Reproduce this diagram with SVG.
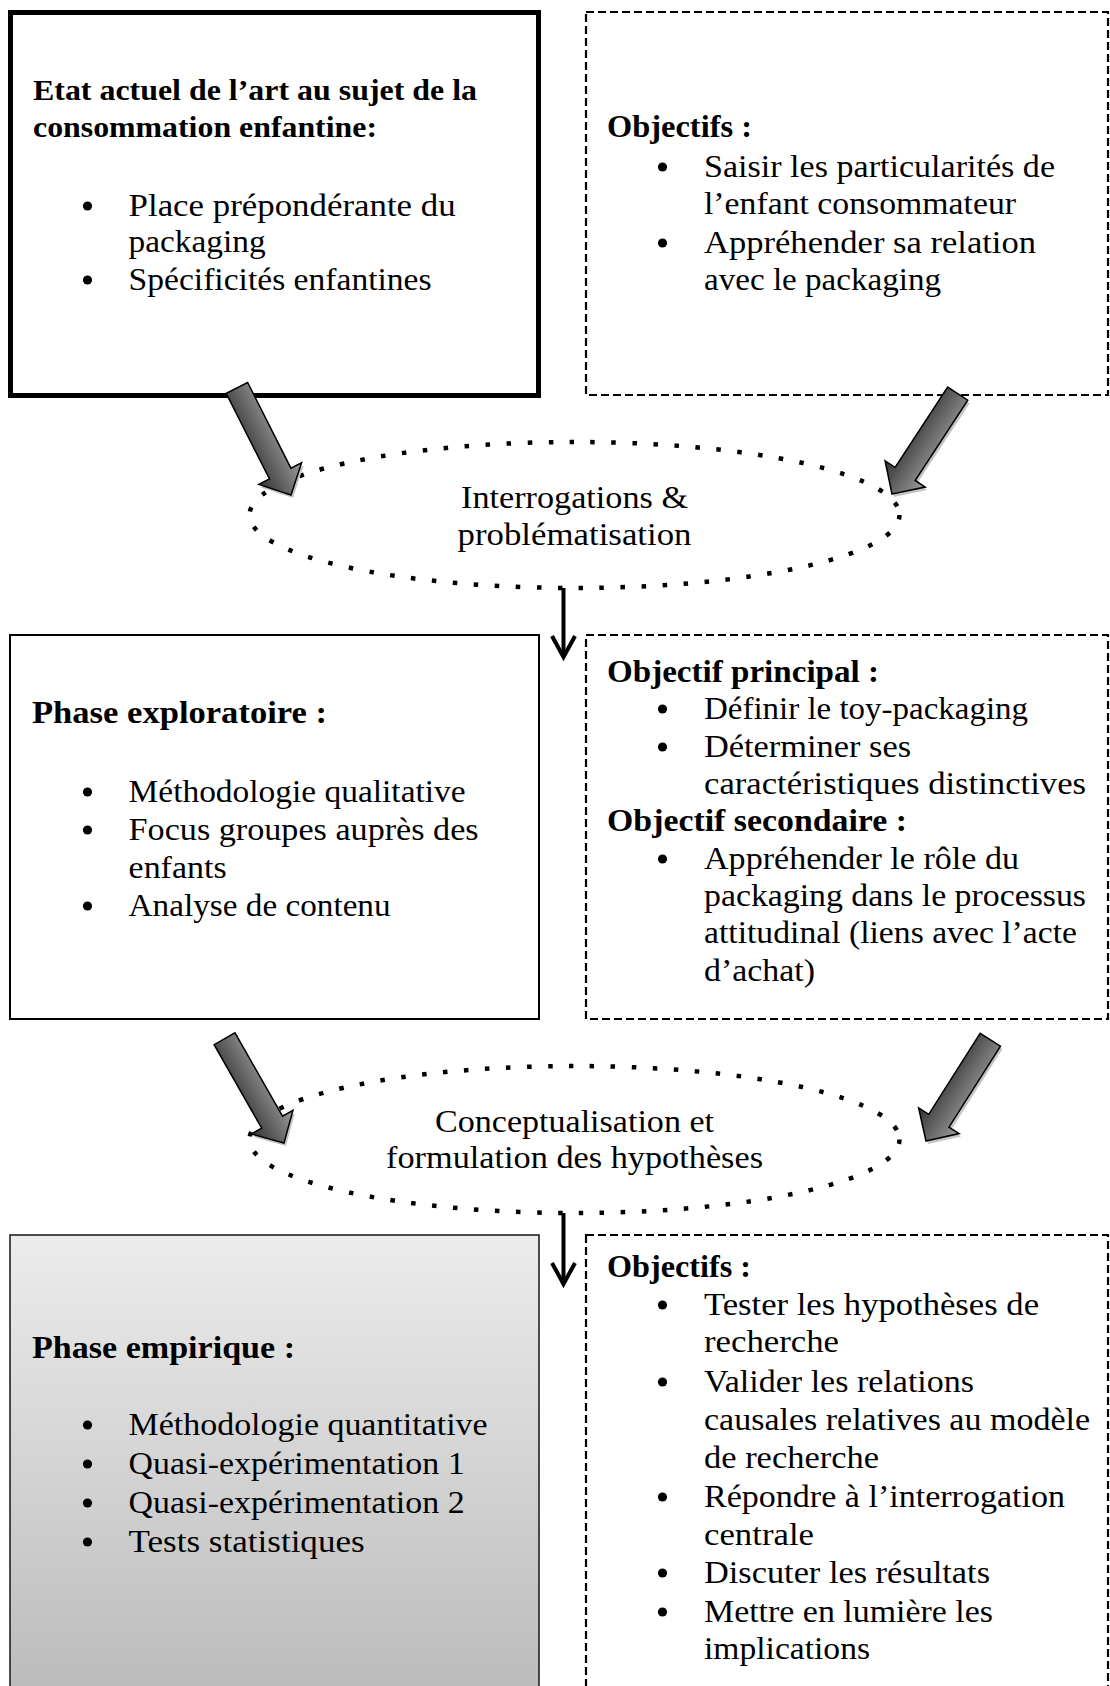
<svg xmlns="http://www.w3.org/2000/svg" xmlns:xlink="http://www.w3.org/1999/xlink" width="1110" height="1686" viewBox="0 0 1110 1686">
<style>
.t{font-family:"Liberation Serif","Times New Roman",serif;font-size:32px;fill:#000}
.h{font-family:"Liberation Serif","Times New Roman",serif;font-size:31px;font-weight:bold;fill:#000}
.ht{font-family:"Liberation Serif","Times New Roman",serif;font-size:29px;font-weight:bold;fill:#000}
.c{text-anchor:middle}
.dash{fill:none;stroke:#000;stroke-width:2.2;stroke-dasharray:8 4}
.dots{fill:none;stroke:#000;stroke-width:4.5;stroke-dasharray:4.5 16.5}
.b{fill:#000}
</style>
<defs>
<linearGradient id="gArrow" gradientUnits="userSpaceOnUse" x1="0" y1="-24" x2="0" y2="24">
<stop offset="0" stop-color="#9c9c9c"/>
<stop offset="1" stop-color="#333"/>
</linearGradient>
<linearGradient id="gGray" x1="0" y1="0" x2="0" y2="1">
<stop offset="0" stop-color="#ececec"/>
<stop offset="1" stop-color="#bbbbbb"/>
</linearGradient>
<path id="blk" d="M0,0 L-24,-24 L-24,-12 L-120,-12 L-120,12 L-24,12 L-24,24 Z"/>
</defs>
<rect width="1110" height="1686" fill="#fff"/>

<g id="box-etat">
<rect x="10.5" y="12.5" width="528" height="383" fill="#fff" stroke="#000" stroke-width="5"/>
<text class="ht" x="33" y="100" textLength="444" lengthAdjust="spacingAndGlyphs">Etat actuel de l’art au sujet de la</text>
<text class="ht" x="33" y="137" textLength="344" lengthAdjust="spacingAndGlyphs">consommation enfantine:</text>
<circle class="b" cx="87.5" cy="206" r="4.6"/>
<circle class="b" cx="87.5" cy="280" r="4.6"/>
<text class="t" x="128.6" y="216" textLength="327" lengthAdjust="spacingAndGlyphs">Place prépondérante du</text>
<text class="t" x="128.6" y="252" textLength="137" lengthAdjust="spacingAndGlyphs">packaging</text>
<text class="t" x="128.6" y="290" textLength="303" lengthAdjust="spacingAndGlyphs">Spécificités enfantines</text>
</g>

<g id="box-objectifs1">
<rect class="dash" x="586" y="12" width="522" height="383"/>
<text class="h" x="607" y="137" textLength="145" lengthAdjust="spacingAndGlyphs">Objectifs :</text>
<circle class="b" cx="662.5" cy="167" r="4.6"/>
<circle class="b" cx="662.5" cy="243" r="4.6"/>
<text class="t" x="704" y="177" textLength="351" lengthAdjust="spacingAndGlyphs">Saisir les particularités de</text>
<text class="t" x="704" y="214" textLength="312" lengthAdjust="spacingAndGlyphs">l’enfant consommateur</text>
<text class="t" x="704" y="253" textLength="332" lengthAdjust="spacingAndGlyphs">Appréhender sa relation</text>
<text class="t" x="704" y="290" textLength="237" lengthAdjust="spacingAndGlyphs">avec le packaging</text>
</g>

<g id="ellipse-interrogations">
<ellipse class="dots" cx="574.5" cy="515" rx="325" ry="73"/>
<text class="t c" x="574.5" y="508" textLength="227" lengthAdjust="spacingAndGlyphs">Interrogations &amp;</text>
<text class="t c" x="574.5" y="545" textLength="234" lengthAdjust="spacingAndGlyphs">problématisation</text>
</g>

<g id="box-exploratoire">
<rect x="10" y="635" width="529" height="384" fill="#fff" stroke="#000" stroke-width="2"/>
<text class="h" x="32" y="723" textLength="295" lengthAdjust="spacingAndGlyphs">Phase exploratoire :</text>
<circle class="b" cx="87.5" cy="792" r="4.6"/>
<circle class="b" cx="87.5" cy="830" r="4.6"/>
<circle class="b" cx="87.5" cy="906" r="4.6"/>
<text class="t" x="128.6" y="802" textLength="337" lengthAdjust="spacingAndGlyphs">Méthodologie qualitative</text>
<text class="t" x="128.6" y="840" textLength="350" lengthAdjust="spacingAndGlyphs">Focus groupes auprès des</text>
<text class="t" x="128.6" y="878" textLength="98" lengthAdjust="spacingAndGlyphs">enfants</text>
<text class="t" x="128.6" y="916" textLength="262" lengthAdjust="spacingAndGlyphs">Analyse de contenu</text>
</g>

<g id="box-objectifs2">
<rect class="dash" x="586" y="635" width="522" height="384"/>
<text class="h" x="607" y="682" textLength="272" lengthAdjust="spacingAndGlyphs">Objectif principal :</text>
<circle class="b" cx="662.5" cy="709" r="4.6"/>
<circle class="b" cx="662.5" cy="747" r="4.6"/>
<text class="t" x="704" y="719" textLength="324" lengthAdjust="spacingAndGlyphs">Définir le toy-packaging</text>
<text class="t" x="704" y="757" textLength="207" lengthAdjust="spacingAndGlyphs">Déterminer ses</text>
<text class="t" x="704" y="794" textLength="382" lengthAdjust="spacingAndGlyphs">caractéristiques distinctives</text>
<text class="h" x="607" y="831" textLength="300" lengthAdjust="spacingAndGlyphs">Objectif secondaire :</text>
<circle class="b" cx="662.5" cy="859" r="4.6"/>
<text class="t" x="704" y="869" textLength="315" lengthAdjust="spacingAndGlyphs">Appréhender le rôle du</text>
<text class="t" x="704" y="906" textLength="382" lengthAdjust="spacingAndGlyphs">packaging dans le processus</text>
<text class="t" x="704" y="943" textLength="373" lengthAdjust="spacingAndGlyphs">attitudinal (liens avec l’acte</text>
<text class="t" x="704" y="981" textLength="111" lengthAdjust="spacingAndGlyphs">d’achat)</text>
</g>

<g id="ellipse-conceptualisation">
<ellipse class="dots" cx="574.5" cy="1139.5" rx="325" ry="73.5"/>
<text class="t c" x="574.5" y="1132" textLength="279" lengthAdjust="spacingAndGlyphs">Conceptualisation et</text>
<text class="t c" x="574.5" y="1168" textLength="377" lengthAdjust="spacingAndGlyphs">formulation des hypothèses</text>
</g>

<g id="box-empirique">
<rect x="10" y="1235" width="529" height="460" fill="url(#gGray)" stroke="#222" stroke-width="1.6"/>
<text class="h" x="32" y="1358" textLength="263" lengthAdjust="spacingAndGlyphs">Phase empirique :</text>
<circle class="b" cx="87.5" cy="1425" r="4.6"/>
<circle class="b" cx="87.5" cy="1464" r="4.6"/>
<circle class="b" cx="87.5" cy="1503" r="4.6"/>
<circle class="b" cx="87.5" cy="1542" r="4.6"/>
<text class="t" x="128.6" y="1435" textLength="359" lengthAdjust="spacingAndGlyphs">Méthodologie quantitative</text>
<text class="t" x="128.6" y="1474" textLength="336" lengthAdjust="spacingAndGlyphs">Quasi-expérimentation 1</text>
<text class="t" x="128.6" y="1513" textLength="336" lengthAdjust="spacingAndGlyphs">Quasi-expérimentation 2</text>
<text class="t" x="128.6" y="1552" textLength="236" lengthAdjust="spacingAndGlyphs">Tests statistiques</text>
</g>

<g id="box-objectifs3">
<rect class="dash" x="586" y="1235" width="522" height="460"/>
<text class="h" x="607" y="1277" textLength="144" lengthAdjust="spacingAndGlyphs">Objectifs :</text>
<circle class="b" cx="662.5" cy="1305" r="4.6"/>
<circle class="b" cx="662.5" cy="1382" r="4.6"/>
<circle class="b" cx="662.5" cy="1497" r="4.6"/>
<circle class="b" cx="662.5" cy="1573" r="4.6"/>
<circle class="b" cx="662.5" cy="1612" r="4.6"/>
<text class="t" x="704" y="1315" textLength="335" lengthAdjust="spacingAndGlyphs">Tester les hypothèses de</text>
<text class="t" x="704" y="1352" textLength="135" lengthAdjust="spacingAndGlyphs">recherche</text>
<text class="t" x="704" y="1392" textLength="270" lengthAdjust="spacingAndGlyphs">Valider les relations</text>
<text class="t" x="704" y="1430" textLength="386" lengthAdjust="spacingAndGlyphs">causales relatives au modèle</text>
<text class="t" x="704" y="1468" textLength="175" lengthAdjust="spacingAndGlyphs">de recherche</text>
<text class="t" x="704" y="1507" textLength="361" lengthAdjust="spacingAndGlyphs">Répondre à l’interrogation</text>
<text class="t" x="704" y="1545" textLength="110" lengthAdjust="spacingAndGlyphs">centrale</text>
<text class="t" x="704" y="1583" textLength="286" lengthAdjust="spacingAndGlyphs">Discuter les résultats</text>
<text class="t" x="704" y="1622" textLength="289" lengthAdjust="spacingAndGlyphs">Mettre en lumière les</text>
<text class="t" x="704" y="1659" textLength="166" lengthAdjust="spacingAndGlyphs">implications</text>
</g>

<g id="connectors">
<use xlink:href="#blk" transform="translate(293,498) rotate(63.2)" fill="#c4c4c4"/>
<use xlink:href="#blk" transform="translate(291,495) rotate(63.2)" fill="url(#gArrow)" stroke="#000" stroke-width="1.5"/>
<use xlink:href="#blk" transform="translate(894,497) rotate(123.2)" fill="#c4c4c4"/>
<use xlink:href="#blk" transform="translate(892,494) rotate(123.2)" fill="url(#gArrow)" stroke="#000" stroke-width="1.5"/>
<use xlink:href="#blk" transform="translate(286,1146) rotate(60.3)" fill="#c4c4c4"/>
<use xlink:href="#blk" transform="translate(284,1143) rotate(60.3)" fill="url(#gArrow)" stroke="#000" stroke-width="1.5"/>
<use xlink:href="#blk" transform="translate(928,1144) rotate(122.4)" fill="#c4c4c4"/>
<use xlink:href="#blk" transform="translate(926,1141) rotate(122.4)" fill="url(#gArrow)" stroke="#000" stroke-width="1.5"/>
<g fill="none" stroke="#000" stroke-width="4">
<line x1="563.5" y1="588" x2="563.5" y2="655"/>
<polyline points="552,636 563.5,657 575,636"/>
<line x1="563.5" y1="1213" x2="563.5" y2="1282"/>
<polyline points="552,1263 563.5,1284 575,1263"/>
</g>
</g>
</svg>
